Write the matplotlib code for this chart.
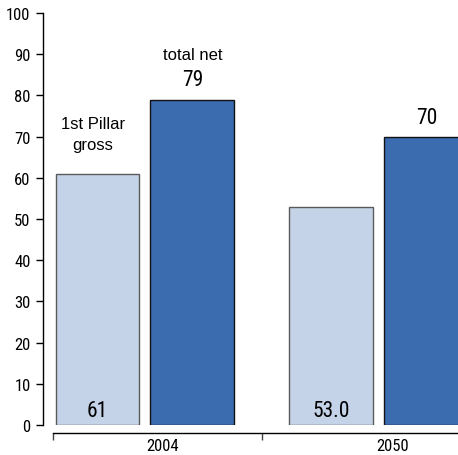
import matplotlib.pyplot as plt

# ---------------- DATA ----------------
years = ["2004", "2050"]
gross = [61, 53.0]       # 1st Pillar gross
net = [79, 70]           # total net
gross_labels = ["61", "53.0"]
net_labels = ["79", "70"]

# ---------------- FONTS ----------------
plt.rcParams["font.family"] = ["Roboto Condensed", "DejaVu Sans"]
plain = ["Liberation Sans", "DejaVu Sans"]

light = "#c5d3e8"
dark = "#3b6cb0"

# ---------------- FIGURE ----------------
fig = plt.figure(figsize=(4.58, 4.56), dpi=100)
ax = fig.add_axes([43 / 458, 30 / 456, 415 / 458, 412 / 456])

offset = 0.203
width = 0.359
xs = list(range(len(years)))

ax.bar([x - offset for x in xs], gross, width=width, color=light,
       edgecolor="#5a5a5a", linewidth=1.0)
ax.bar([x + offset for x in xs], net, width=width, color=dark,
       edgecolor="#111111", linewidth=1.0)

# value labels
for x, g, gl in zip(xs, gross, gross_labels):
    ax.text(x - offset, 1.0, gl, ha="center", va="bottom", fontsize=15.5)
for x, n, nl in zip(xs, net, net_labels):
    ax.annotate(nl, (x + offset, n), xytext=(0, 6.5), textcoords="offset points",
                ha="center", va="bottom", fontsize=15.5)

# series names
ax.text(xs[0] + offset, 90.0, "total net", ha="center", va="center",
        fontsize=12, family=plain)
ax.text(xs[0] - offset - 0.021, 70.6, "1st Pillar\ngross", ha="center",
        va="center", fontsize=12, family=plain, linespacing=1.45)

# ---------------- AXES ----------------
ax.set_xlim(-0.436, 1.338)
ax.set_ylim(0, 100)
ax.set_yticks(range(0, 101, 10))
ax.tick_params(axis="y", length=5, width=1, labelsize=12, pad=4)

# group boundaries as major ticks, year names as minor ticks
ax.set_xticks([-0.393, 0.5])
ax.set_xticklabels([])
ax.set_xticks([0.073, 1.06], minor=True)
ax.set_xticklabels(years, minor=True)
ax.tick_params(axis="x", which="major", direction="out", length=5, width=1,
               color="#444444")
ax.tick_params(axis="x", which="minor", length=0, labelsize=12, pad=3.5)

ax.spines["top"].set_visible(False)
ax.spines["right"].set_visible(False)
ax.spines["bottom"].set_position(("outward", 6))
ax.spines["bottom"].set_bounds(-0.393, 1.338)
for s in ("left", "bottom"):
    ax.spines[s].set_linewidth(1)

fig.savefig("out.png", dpi=100)
